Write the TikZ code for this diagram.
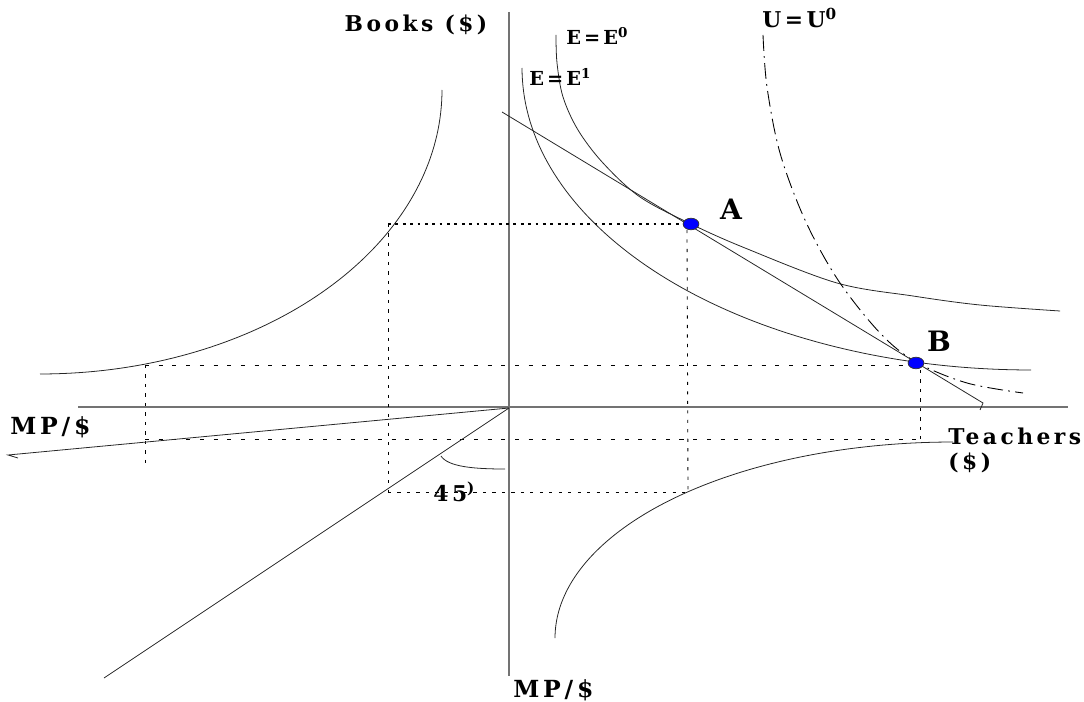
\documentclass[tikz,border=0pt]{standalone}
\usepackage{fontspec}
\usetikzlibrary{shapes.geometric}
\newfontfamily\labfont[LetterSpace=16]{DejaVu Serif}
\begin{document}
\begin{tikzpicture}[x=0.02cm,y=-0.02cm,
  axis/.style={draw=black!55, line width=0.8pt},
  curve/.style={draw=black!85, line width=0.45pt},
  udash/.style={draw=black, line width=0.5pt, dash pattern=on 9pt off 3pt on 1pt off 3pt},
  dotthick/.style={line width=0.9pt, dash pattern=on 1.6pt off 2.6pt},
  dotline/.style={line width=0.5pt, dash pattern=on 1.8pt off 3.6pt},
  dashline/.style={line width=0.5pt, dash pattern=on 2.3pt off 5.5pt},
  lab/.style={font=\labfont\bfseries\fontsize{12.4}{14}\selectfont, inner sep=0pt},
  mplab/.style={font=\labfont\bfseries\fontsize{13.4}{15}\selectfont, inner sep=0pt},
  smalllab/.style={font=\labfont\bfseries\fontsize{11}{12}\selectfont, inner sep=0pt},
  biglab/.style={font=\labfont\bfseries\fontsize{16}{18}\selectfont, inner sep=0pt},
  pt/.style={ellipse, draw=black!80, fill=blue, line width=0.4pt, minimum width=9pt, minimum height=6.6pt, inner sep=0pt}
]
\useasboundingbox (0,0) rectangle (1084,702);
% coordinates
\coordinate (O) at (509,408);
\coordinate (ytop) at (509,12);
\coordinate (ybot) at (509,676);
\coordinate (xl) at (78,407);
\coordinate (xr) at (1068,407);
\coordinate (bl1) at (502,112);
\coordinate (bl2) at (983,403);
\coordinate (bl3) at (980,410);
\coordinate (mp1) at (8,455);
\coordinate (mp2) at (18,458);
\coordinate (ff) at (104,678);
% axes
\draw[axis] (ytop) -- (ybot);
\draw[axis] (xl) -- (xr);
% dotted guides
\coordinate (p1) at (388,224);
\coordinate (p2) at (388,492);
\coordinate (p3) at (688,492);
\coordinate (p4) at (687,230);
\coordinate (q1) at (145,365);
\coordinate (q2) at (145,463);
\coordinate (q3) at (145,439);
\coordinate (q4) at (920,439);
\coordinate (q5) at (920,370);
\coordinate (q6) at (910,365);
\coordinate (pA) at (684,224);
\draw[dotthick] (p1) -- (pA);
\draw[dotline] (p1) -- (p2);
\draw[dotline] (p2) -- (p3);
\draw[dotline] (p4) -- (p3);
\draw[dashline] (q1) -- (q6);
\draw[dotline] (q1) -- (q2);
\draw[dashline] (q3) -- (q4);
\draw[dotline] (q5) -- (q4);
% curves
\draw[curve] plot[smooth, tension=0.55] coordinates {(556,35) (557,63) (563,97) (578,130) (603,163) (640,197) (691,224) (745,248) (837,283) (913,296) (980,305) (1060,311)};
\draw[curve] plot[domain=0:90, samples=80] ({1031-509*cos(\x)},{68+302*sin(\x)});
\draw[udash] plot[smooth, tension=0.55] coordinates {(763,35) (767,87) (780,153) (805,220) (838,280) (880,333) (916,362) (967,383) (1023,393)};
\draw[curve] plot[domain=0:90, samples=80] ({40+402*cos(\x)},{90+284*sin(\x)});
\draw[curve] plot[domain=0:90, samples=80] ({953-398*cos(\x)},{638-196*sin(\x)});
% straight lines
\draw[curve] (bl1) -- (bl2) -- (bl3);
\draw[curve] (O) -- (mp1) -- (mp2);
\draw[curve] (O) -- (ff);
\coordinate (a1) at (441,456);
\coordinate (a2) at (505,469);
\draw[curve] (a1) .. controls (448,467) and (475,469) .. (a2);
% points
\node[pt] (A) at (691,224) {};
\node[pt] (B) at (916,363) {};
% labels
\node[lab] (books) at (416,25) {Books (\$)};
\node[smalllab, anchor=west] (e0) at (566,36) {E=E\textsuperscript{0}};
\node[smalllab, anchor=west] (e1) at (529,77) {E=E\textsuperscript{1}};
\node[lab, anchor=west] (u0) at (762,18) {U=U\textsuperscript{0}};
\node[biglab] (la) at (731,209) {A};
\node[biglab] (lb) at (939,341) {B};
\node[mplab, anchor=west] (mpl) at (10,427) {MP/\$};
\node[lab, anchor=west] (teach) at (948,436) {Teachers};
\node[lab, anchor=west] (teach2) at (948,463) {(\$)};
\node[mplab, anchor=west] (mpb) at (513,690) {MP/\$};
\node[lab, anchor=west] (ang) at (433,492) {45\textsuperscript{)}};
\end{tikzpicture}
\end{document}
